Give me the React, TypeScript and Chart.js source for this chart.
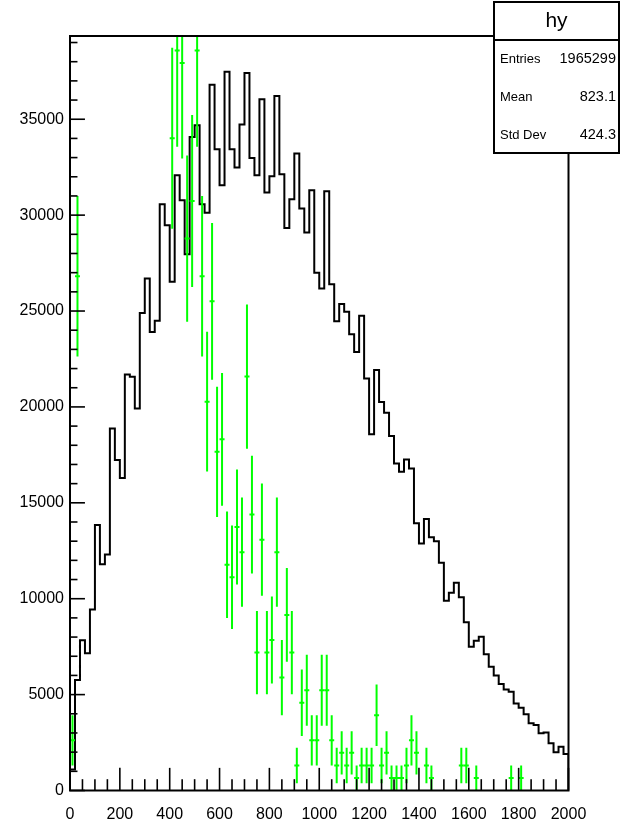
import React, { useEffect, useRef } from 'react';
import { Chart, registerables } from 'chart.js';

Chart.register(...registerables);

// ---- data ----
const BIN_WIDTH = 20;
const X_MIN = 0;
const X_MAX = 2000;
const Y_MAX = 39340;
const X_TICKS = [0, 200, 400, 600, 800, 1000, 1200, 1400, 1600, 1800, 2000];
const Y_TICKS = [0, 5000, 10000, 15000, 20000, 25000, 30000, 35000];

// black histogram "hy": 100 bins of width 20 on [0, 2000]
const HY = [
  1100, 5760, 7840, 7150, 9440, 13840, 11800, 12310, 18880, 17230,
  16300, 21690, 21570, 19920, 24900, 26700, 23910, 24490, 30570, 29470,
  26520, 32080, 30780, 27960, 34080, 34690, 30570, 30120, 36800, 33430,
  31560, 37470, 33430, 32480, 34720, 37410, 32980, 32080, 36040, 31180,
  32030, 36210, 32130, 29330, 30830, 33210, 30340, 29090, 31300, 26990,
  26170, 31250, 26400, 24470, 25360, 24960, 23790, 22870, 24750, 21480,
  18580, 21920, 20260, 19690, 18480, 17050, 16620, 17260, 16790, 13930,
  12880, 14150, 13200, 13000, 11870, 9890, 10310, 10830, 10070, 8770,
  7500, 7810, 8020, 7110, 6450, 5990, 5550, 5270, 5150, 4540,
  4320, 3970, 3500, 3410, 2980, 3030, 2460, 1990, 2280, 1900,
];

// green overlay (bin index, value, error)
const GREEN_BINS = [
  0, 1, 20, 21, 22, 23, 24, 25, 26, 27, 28, 29, 30, 31, 32, 33, 34, 35, 36, 37,
  38, 39, 40, 41, 42, 43, 44, 45, 46, 47, 48, 49, 50, 51, 52, 53, 54, 55, 56, 57,
  58, 59, 60, 61, 62, 63, 64, 65, 66, 67, 68, 69, 71, 72, 78, 79, 81, 88, 90,
];
const GREEN_VALUES = [
  2616, 26814, 34008, 38586, 37932, 28776, 30738, 38586, 26814, 20274, 25506, 17658, 18312, 11772, 11118, 13734, 12426, 21582, 14388, 7194,
  13080, 7194, 7848, 12426, 5886, 9156, 7194, 1308, 4578, 5232, 2616, 2616, 5232, 5232, 2616, 1308, 1962, 1308, 1962, 654,
  1308, 1308, 1308, 3924, 1308, 1962, 654, 654, 654, 1308, 2616, 1962, 1308, 654, 1308, 1308, 654, 654, 654,
];
const GREEN_ERRORS = [
  1308, 4188, 4716, 5024, 4981, 4338, 4484, 5024, 4188, 3641, 4084, 3398, 3461, 2775, 2697, 2997, 2851, 3757, 3068, 2169,
  2925, 2169, 2266, 2851, 1962, 2447, 2169, 925, 1730, 1850, 1308, 1308, 1850, 1850, 1308, 925, 1133, 925, 1133, 654,
  925, 925, 925, 1602, 925, 1133, 654, 654, 654, 925, 1308, 1133, 925, 654, 925, 925, 654, 654, 654,
];

const STATS_TITLE = 'hy';
const STATS_LABELS = ['Entries', 'Mean', 'Std Dev'];
const STATS_VALUES = ['1965299', '823.1', '424.3'];

// ---- style ----
const FONT = '"Liberation Sans", Arial, Helvetica, sans-serif';
const GREEN = '#00ff00';
const W = 628;
const H = 830;

const rootDecor = {
  id: 'rootDecor',
  afterDatasetsDraw(chart: any) {
    const { ctx, chartArea: a, scales } = chart;
    const x = scales.x;
    const y = scales.y;
    // error bars
    ctx.save();
    ctx.beginPath();
    ctx.rect(a.left, a.top, a.right - a.left, a.bottom - a.top);
    ctx.clip();
    ctx.strokeStyle = GREEN;
    ctx.lineWidth = 2;
    GREEN_BINS.forEach((b, i) => {
      const xc = x.getPixelForValue(b * BIN_WIDTH + BIN_WIDTH / 2);
      const v = GREEN_VALUES[i];
      const e = GREEN_ERRORS[i];
      ctx.beginPath();
      ctx.moveTo(xc, y.getPixelForValue(Math.max(0, v - e)));
      ctx.lineTo(xc, y.getPixelForValue(v + e));
      ctx.stroke();
    });
    ctx.restore();

    // ticks (inside the frame)
    ctx.save();
    ctx.strokeStyle = '#000';
    ctx.lineWidth = 1.6;
    const fw = a.right - a.left;
    const fh = a.bottom - a.top;
    for (let v = 0; v <= Y_MAX; v += 1000) {
      const py = y.getPixelForValue(v);
      const len = v % 5000 === 0 ? 0.03 * fw : 0.015 * fw;
      ctx.beginPath();
      ctx.moveTo(a.left, py);
      ctx.lineTo(a.left + len, py);
      ctx.stroke();
    }
    for (let v = X_MIN; v <= X_MAX; v += 50) {
      const px = x.getPixelForValue(v);
      const len = v % 200 === 0 ? 0.03 * fh : 0.015 * fh;
      ctx.beginPath();
      ctx.moveTo(px, a.bottom);
      ctx.lineTo(px, a.bottom - len);
      ctx.stroke();
    }
    // frame
    ctx.lineWidth = 2;
    ctx.strokeRect(a.left, a.top, fw, fh);
    ctx.restore();
  },
  afterDraw(chart: any) {
    const { ctx } = chart;
    const bx = 494;
    const by = 2;
    const bw = 125;
    const bh = 151;
    ctx.save();
    ctx.fillStyle = '#fff';
    ctx.fillRect(bx, by, bw, bh);
    ctx.strokeStyle = '#000';
    ctx.lineWidth = 2;
    ctx.strokeRect(bx, by, bw, bh);
    ctx.beginPath();
    ctx.moveTo(bx, 40);
    ctx.lineTo(bx + bw, 40);
    ctx.stroke();
    ctx.fillStyle = '#000';
    ctx.textBaseline = 'middle';
    ctx.textAlign = 'center';
    ctx.font = `21px ${FONT}`;
    ctx.fillText(STATS_TITLE, bx + bw / 2, 21);
    const rows = [59, 97, 135];
    STATS_LABELS.forEach((lab, i) => {
      ctx.font = `13px ${FONT}`;
      ctx.textAlign = 'left';
      ctx.fillText(lab, bx + 6, rows[i]);
      ctx.font = `14.5px ${FONT}`;
      ctx.textAlign = 'right';
      ctx.fillText(STATS_VALUES[i], bx + bw - 3, rows[i]);
    });
    ctx.restore();
  },
};

export default function App() {
  const ref = useRef<HTMLCanvasElement>(null);

  useEffect(() => {
    if (!ref.current) return;
    Chart.defaults.font.family = FONT;

    const histPoints: { x: number; y: number }[] = [{ x: X_MIN, y: 0 }];
    HY.forEach((v, i) => histPoints.push({ x: X_MIN + i * BIN_WIDTH, y: v }));
    histPoints.push({ x: X_MAX, y: HY[HY.length - 1] });
    histPoints.push({ x: X_MAX, y: 0 });

    const greenPoints = GREEN_BINS.map((b, i) => ({
      x: b * BIN_WIDTH + BIN_WIDTH / 2,
      y: GREEN_VALUES[i],
    }));

    const chart = new Chart(ref.current, {
      type: 'line',
      data: {
        datasets: [
          {
            type: 'scatter',
            label: 'green',
            data: greenPoints,
            order: 0,
            pointStyle: 'line',
            pointRadius: 2.5,
            pointBorderWidth: 2,
            pointBorderColor: GREEN,
            pointBackgroundColor: GREEN,
            borderColor: GREEN,
            showLine: false,
          } as any,
          {
            type: 'line',
            label: 'hy',
            data: histPoints,
            order: 1,
            stepped: 'before',
            borderColor: '#000',
            borderWidth: 2,
            pointRadius: 0,
            fill: false,
          } as any,
        ],
      },
      options: {
        animation: false,
        responsive: false,
        maintainAspectRatio: false,
        devicePixelRatio: 1,
        events: [],
        layout: { padding: { top: 36, right: 59.5, left: 0, bottom: 0 } },
        plugins: {
          legend: { display: false },
          title: { display: false },
          tooltip: { enabled: false },
        },
        scales: {
          x: {
            type: 'linear',
            min: X_MIN,
            max: X_MAX,
            grid: { display: false, drawTicks: false },
            border: { display: false },
            afterBuildTicks: (s: any) => {
              s.ticks = X_TICKS.map((v) => ({ value: v }));
            },
            afterFit: (s: any) => {
              s.height = 39.5;
            },
            ticks: {
              color: '#000',
              font: { size: 16, family: FONT },
              padding: 14,
              maxRotation: 0,
              autoSkip: false,
              callback: (v: any) => String(v),
            },
          },
          y: {
            type: 'linear',
            min: 0,
            max: Y_MAX,
            grid: { display: false, drawTicks: false },
            border: { display: false },
            afterBuildTicks: (s: any) => {
              s.ticks = Y_TICKS.map((v) => ({ value: v }));
            },
            afterFit: (s: any) => {
              s.width = 70;
            },
            ticks: {
              color: '#000',
              font: { size: 16, family: FONT },
              padding: 6,
              autoSkip: false,
              callback: (v: any) => String(v),
            },
          },
        },
      },
      plugins: [rootDecor],
    });
    return () => chart.destroy();
  }, []);

  return (
    <div style={{ position: 'absolute', left: 0, top: 0, width: W, height: H, background: '#fff' }}>
      <canvas ref={ref} width={W} height={H} style={{ width: W, height: H, display: 'block' }} />
    </div>
  );
}
